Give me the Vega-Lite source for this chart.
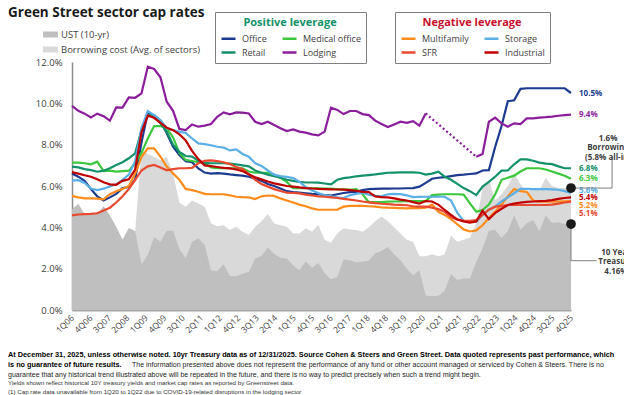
{
  "$schema": "https://vega.github.io/schema/vega-lite/v6.json",
  "width": 499,
  "height": 248,
  "autosize": {"type": "none"},
  "padding": {"left": 72, "top": 62, "right": 53, "bottom": 85},
  "background": "white",
  "config": {"view": {"stroke": null}, "font": "Open Sans"},
  "title": {"text": "Green Street sector cap rates", "anchor": "start", "frame": "group", "dx": -64, "offset": -8, "fontSize": 13.5, "font": "Open Sans", "fontWeight": "bold", "color": "#1a1a1a"},
  "datasets": {
    "ends": [
      {"series": "Office", "label": "10.5%"},
      {"series": "Lodging", "label": "9.4%"},
      {"series": "Retail", "label": "6.8%"},
      {"series": "Medical office", "label": "6.3%"},
      {"series": "Storage", "label": "5.6%"},
      {"series": "Industrial", "label": "5.4%"},
      {"series": "Multifamily", "label": "5.2%"},
      {"series": "SFR", "label": "5.1%"}
    ],
    "cap": [
      {"i":0,"UST":4.86,"Borrow":null,"Office":6.6,"Medical office":7.13,"Retail":6.94,"Lodging":9.88,"Multifamily":5.52,"Storage":6.26,"SFR":4.58,"Industrial":6.67},
      {"i":1,"UST":5.14,"Borrow":null,"Office":6.45,"Medical office":7.13,"Retail":6.9,"Lodging":9.64,"Multifamily":5.45,"Storage":6.28,"SFR":4.62,"Industrial":6.6},
      {"i":2,"UST":4.63,"Borrow":null,"Office":6.25,"Medical office":7.1,"Retail":6.82,"Lodging":9.5,"Multifamily":5.4,"Storage":6.15,"SFR":4.64,"Industrial":6.52},
      {"i":3,"UST":4.7,"Borrow":null,"Office":5.85,"Medical office":7.05,"Retail":6.77,"Lodging":9.32,"Multifamily":5.4,"Storage":5.88,"SFR":4.65,"Industrial":6.45},
      {"i":4,"UST":4.64,"Borrow":null,"Office":5.5,"Medical office":7.18,"Retail":6.69,"Lodging":9.5,"Multifamily":5.39,"Storage":5.8,"SFR":4.68,"Industrial":6.33},
      {"i":5,"UST":5.02,"Borrow":null,"Office":5.3,"Medical office":6.72,"Retail":6.74,"Lodging":9.38,"Multifamily":5.35,"Storage":5.87,"SFR":4.82,"Industrial":6.18},
      {"i":6,"UST":4.58,"Borrow":null,"Office":5.45,"Medical office":6.74,"Retail":6.86,"Lodging":9.16,"Multifamily":5.6,"Storage":5.98,"SFR":4.95,"Industrial":6.08},
      {"i":7,"UST":4.03,"Borrow":null,"Office":5.62,"Medical office":6.7,"Retail":7.02,"Lodging":9.8,"Multifamily":5.75,"Storage":6.08,"SFR":5.2,"Industrial":6.06},
      {"i":8,"UST":3.41,"Borrow":null,"Office":5.9,"Medical office":6.72,"Retail":7.15,"Lodging":9.79,"Multifamily":5.86,"Storage":6.3,"SFR":5.5,"Industrial":6.25},
      {"i":9,"UST":3.97,"Borrow":null,"Office":5.95,"Medical office":6.74,"Retail":7.34,"Lodging":10.29,"Multifamily":6.0,"Storage":6.55,"SFR":5.85,"Industrial":6.32},
      {"i":10,"UST":3.82,"Borrow":3.84,"Office":6.3,"Medical office":7.1,"Retail":7.58,"Lodging":10.27,"Multifamily":6.6,"Storage":7.2,"SFR":6.3,"Industrial":6.8},
      {"i":11,"UST":2.21,"Borrow":7.7,"Office":8.1,"Medical office":7.6,"Retail":8.7,"Lodging":10.48,"Multifamily":7.4,"Storage":8.8,"SFR":6.75,"Industrial":8.6},
      {"i":12,"UST":2.67,"Borrow":7.55,"Office":9.55,"Medical office":8.3,"Retail":9.43,"Lodging":11.77,"Multifamily":7.82,"Storage":9.62,"SFR":6.95,"Industrial":9.4},
      {"i":13,"UST":3.53,"Borrow":7.4,"Office":9.43,"Medical office":8.9,"Retail":9.43,"Lodging":11.66,"Multifamily":7.82,"Storage":9.43,"SFR":7.02,"Industrial":9.3},
      {"i":14,"UST":3.3,"Borrow":7.25,"Office":9.16,"Medical office":8.9,"Retail":9.03,"Lodging":11.26,"Multifamily":7.42,"Storage":9.19,"SFR":6.9,"Industrial":9.05},
      {"i":15,"UST":3.83,"Borrow":7.4,"Office":8.55,"Medical office":8.8,"Retail":8.63,"Lodging":10.08,"Multifamily":6.94,"Storage":8.79,"SFR":6.76,"Industrial":8.82},
      {"i":16,"UST":3.83,"Borrow":6.6,"Office":7.9,"Medical office":8.35,"Retail":8.0,"Lodging":9.64,"Multifamily":6.61,"Storage":8.71,"SFR":6.82,"Industrial":8.7},
      {"i":17,"UST":2.95,"Borrow":5.2,"Office":7.5,"Medical office":7.6,"Retail":7.65,"Lodging":8.76,"Multifamily":6.3,"Storage":8.62,"SFR":6.86,"Industrial":8.5},
      {"i":18,"UST":2.51,"Borrow":5.0,"Office":7.2,"Medical office":7.26,"Retail":7.45,"Lodging":8.71,"Multifamily":5.86,"Storage":8.57,"SFR":6.86,"Industrial":8.2},
      {"i":19,"UST":3.29,"Borrow":5.3,"Office":7.15,"Medical office":7.21,"Retail":7.42,"Lodging":8.98,"Multifamily":5.8,"Storage":8.3,"SFR":6.88,"Industrial":7.7},
      {"i":20,"UST":3.47,"Borrow":5.15,"Office":6.85,"Medical office":7.15,"Retail":7.22,"Lodging":8.87,"Multifamily":5.72,"Storage":8.06,"SFR":7.1,"Industrial":7.3},
      {"i":21,"UST":3.16,"Borrow":5.0,"Office":6.65,"Medical office":7.1,"Retail":7.12,"Lodging":8.92,"Multifamily":5.62,"Storage":8.03,"SFR":7.22,"Industrial":7.0},
      {"i":22,"UST":1.92,"Borrow":4.2,"Office":6.6,"Medical office":6.9,"Retail":7.1,"Lodging":9.0,"Multifamily":5.6,"Storage":7.97,"SFR":7.24,"Industrial":6.96},
      {"i":23,"UST":1.88,"Borrow":4.05,"Office":6.62,"Medical office":6.86,"Retail":7.1,"Lodging":9.35,"Multifamily":5.6,"Storage":7.9,"SFR":7.2,"Industrial":6.92},
      {"i":24,"UST":2.21,"Borrow":4.1,"Office":6.6,"Medical office":6.86,"Retail":7.1,"Lodging":9.56,"Multifamily":5.6,"Storage":7.86,"SFR":7.15,"Industrial":6.88},
      {"i":25,"UST":1.65,"Borrow":3.87,"Office":6.56,"Medical office":6.86,"Retail":7.08,"Lodging":9.47,"Multifamily":5.55,"Storage":7.72,"SFR":7.06,"Industrial":6.85},
      {"i":26,"UST":1.63,"Borrow":4.03,"Office":6.53,"Medical office":6.86,"Retail":7.05,"Lodging":9.56,"Multifamily":5.48,"Storage":7.77,"SFR":6.92,"Industrial":6.8},
      {"i":27,"UST":1.76,"Borrow":3.79,"Office":6.5,"Medical office":6.86,"Retail":7.0,"Lodging":9.55,"Multifamily":5.46,"Storage":7.55,"SFR":6.82,"Industrial":6.72},
      {"i":28,"UST":1.85,"Borrow":3.63,"Office":6.45,"Medical office":6.7,"Retail":6.95,"Lodging":9.51,"Multifamily":5.45,"Storage":7.42,"SFR":6.58,"Industrial":6.55},
      {"i":29,"UST":2.49,"Borrow":4.03,"Office":6.35,"Medical office":6.64,"Retail":6.75,"Lodging":9.11,"Multifamily":5.37,"Storage":7.1,"SFR":6.3,"Industrial":6.42},
      {"i":30,"UST":2.61,"Borrow":4.3,"Office":6.25,"Medical office":6.64,"Retail":6.64,"Lodging":9.0,"Multifamily":5.5,"Storage":6.97,"SFR":6.1,"Industrial":6.32},
      {"i":31,"UST":3.03,"Borrow":4.64,"Office":6.1,"Medical office":6.64,"Retail":6.55,"Lodging":9.11,"Multifamily":5.54,"Storage":6.75,"SFR":5.97,"Industrial":6.22},
      {"i":32,"UST":2.72,"Borrow":4.19,"Office":6.0,"Medical office":6.55,"Retail":6.47,"Lodging":8.95,"Multifamily":5.52,"Storage":6.55,"SFR":5.85,"Industrial":6.13},
      {"i":33,"UST":2.53,"Borrow":4.1,"Office":5.88,"Medical office":6.4,"Retail":6.4,"Lodging":8.8,"Multifamily":5.4,"Storage":6.48,"SFR":5.76,"Industrial":6.07},
      {"i":34,"UST":2.49,"Borrow":4.03,"Office":5.75,"Medical office":6.2,"Retail":6.3,"Lodging":8.66,"Multifamily":5.3,"Storage":6.44,"SFR":5.68,"Industrial":6.0},
      {"i":35,"UST":2.17,"Borrow":3.71,"Office":5.7,"Medical office":5.89,"Retail":6.25,"Lodging":8.74,"Multifamily":5.2,"Storage":6.38,"SFR":5.66,"Industrial":5.97},
      {"i":36,"UST":1.92,"Borrow":3.7,"Office":5.68,"Medical office":5.89,"Retail":6.2,"Lodging":8.63,"Multifamily":5.1,"Storage":6.21,"SFR":5.64,"Industrial":5.93},
      {"i":37,"UST":2.35,"Borrow":3.95,"Office":5.65,"Medical office":5.89,"Retail":6.17,"Lodging":8.58,"Multifamily":5.02,"Storage":5.95,"SFR":5.58,"Industrial":5.9},
      {"i":38,"UST":2.04,"Borrow":3.8,"Office":5.62,"Medical office":5.89,"Retail":6.17,"Lodging":8.5,"Multifamily":4.92,"Storage":5.78,"SFR":5.54,"Industrial":5.88},
      {"i":39,"UST":2.27,"Borrow":4.11,"Office":5.6,"Medical office":5.89,"Retail":6.16,"Lodging":8.45,"Multifamily":4.85,"Storage":5.66,"SFR":5.5,"Industrial":5.86},
      {"i":40,"UST":1.78,"Borrow":3.4,"Office":5.56,"Medical office":5.88,"Retail":6.12,"Lodging":8.63,"Multifamily":4.85,"Storage":5.55,"SFR":5.48,"Industrial":5.85},
      {"i":41,"UST":1.49,"Borrow":3.26,"Office":5.54,"Medical office":5.87,"Retail":6.08,"Lodging":9.79,"Multifamily":4.85,"Storage":5.5,"SFR":5.45,"Industrial":5.84},
      {"i":42,"UST":1.6,"Borrow":3.7,"Office":5.6,"Medical office":5.85,"Retail":6.3,"Lodging":9.68,"Multifamily":4.86,"Storage":5.45,"SFR":5.42,"Industrial":5.83},
      {"i":43,"UST":2.45,"Borrow":3.95,"Office":5.66,"Medical office":5.84,"Retail":6.38,"Lodging":9.48,"Multifamily":5.0,"Storage":5.42,"SFR":5.38,"Industrial":5.82},
      {"i":44,"UST":2.4,"Borrow":3.9,"Office":5.7,"Medical office":5.82,"Retail":6.42,"Lodging":9.63,"Multifamily":5.04,"Storage":5.55,"SFR":5.34,"Industrial":5.8},
      {"i":45,"UST":2.31,"Borrow":3.87,"Office":5.72,"Medical office":5.85,"Retail":6.47,"Lodging":9.63,"Multifamily":5.04,"Storage":5.62,"SFR":5.3,"Industrial":5.77},
      {"i":46,"UST":2.33,"Borrow":3.79,"Office":5.8,"Medical office":5.6,"Retail":6.5,"Lodging":9.48,"Multifamily":5.04,"Storage":5.68,"SFR":5.25,"Industrial":5.72},
      {"i":47,"UST":2.4,"Borrow":4.0,"Office":5.85,"Medical office":5.22,"Retail":6.53,"Lodging":9.43,"Multifamily":5.02,"Storage":5.58,"SFR":5.21,"Industrial":5.7},
      {"i":48,"UST":2.74,"Borrow":4.3,"Office":5.86,"Medical office":5.22,"Retail":6.56,"Lodging":9.16,"Multifamily":5.0,"Storage":5.52,"SFR":5.17,"Industrial":5.5},
      {"i":49,"UST":2.85,"Borrow":4.52,"Office":5.87,"Medical office":5.22,"Retail":6.6,"Lodging":9.0,"Multifamily":4.97,"Storage":5.5,"SFR":5.14,"Industrial":5.46},
      {"i":50,"UST":3.05,"Borrow":4.3,"Office":5.87,"Medical office":5.24,"Retail":6.64,"Lodging":8.85,"Multifamily":4.95,"Storage":5.6,"SFR":5.12,"Industrial":5.45},
      {"i":51,"UST":2.69,"Borrow":4.0,"Office":5.88,"Medical office":5.25,"Retail":6.65,"Lodging":8.98,"Multifamily":4.94,"Storage":5.62,"SFR":5.1,"Industrial":5.4},
      {"i":52,"UST":2.41,"Borrow":3.7,"Office":5.88,"Medical office":5.26,"Retail":6.66,"Lodging":9.11,"Multifamily":4.93,"Storage":5.61,"SFR":5.09,"Industrial":5.34},
      {"i":53,"UST":2.0,"Borrow":3.4,"Office":5.89,"Medical office":5.27,"Retail":6.66,"Lodging":9.06,"Multifamily":4.92,"Storage":5.55,"SFR":5.07,"Industrial":5.3},
      {"i":54,"UST":1.68,"Borrow":3.3,"Office":5.9,"Medical office":5.27,"Retail":6.66,"Lodging":9.14,"Multifamily":4.93,"Storage":5.46,"SFR":5.02,"Industrial":5.22},
      {"i":55,"UST":1.92,"Borrow":2.6,"Office":5.97,"Medical office":5.27,"Retail":6.64,"Lodging":8.92,"Multifamily":4.93,"Storage":5.47,"SFR":5.0,"Industrial":5.15},
      {"i":56,"UST":0.7,"Borrow":2.6,"Office":6.15,"Medical office":5.27,"Retail":6.55,"Lodging":9.51,"Multifamily":4.95,"Storage":5.48,"SFR":5.0,"Industrial":5.27},
      {"i":57,"UST":0.66,"Borrow":2.7,"Office":6.35,"Medical office":5.56,"Retail":6.6,"Lodging":null,"Multifamily":5.1,"Storage":5.48,"SFR":4.95,"Industrial":5.25},
      {"i":58,"UST":0.69,"Borrow":2.6,"Office":6.4,"Medical office":5.58,"Retail":6.69,"Lodging":null,"Multifamily":4.75,"Storage":5.48,"SFR":4.88,"Industrial":5.1},
      {"i":59,"UST":0.93,"Borrow":2.7,"Office":6.43,"Medical office":5.6,"Retail":6.45,"Lodging":null,"Multifamily":4.6,"Storage":5.48,"SFR":4.75,"Industrial":4.84},
      {"i":60,"UST":1.74,"Borrow":3.6,"Office":6.48,"Medical office":5.6,"Retail":6.3,"Lodging":null,"Multifamily":4.4,"Storage":5.3,"SFR":4.5,"Industrial":4.6},
      {"i":61,"UST":1.45,"Borrow":3.3,"Office":6.53,"Medical office":5.6,"Retail":6.1,"Lodging":null,"Multifamily":4.15,"Storage":4.7,"SFR":4.37,"Industrial":4.38},
      {"i":62,"UST":1.52,"Borrow":3.4,"Office":6.55,"Medical office":5.58,"Retail":5.9,"Lodging":null,"Multifamily":3.9,"Storage":4.32,"SFR":4.33,"Industrial":4.28},
      {"i":63,"UST":1.52,"Borrow":3.5,"Office":6.58,"Medical office":5.16,"Retail":5.75,"Lodging":null,"Multifamily":3.8,"Storage":4.28,"SFR":4.31,"Industrial":4.23},
      {"i":64,"UST":2.32,"Borrow":4.2,"Office":6.61,"Medical office":4.76,"Retail":5.56,"Lodging":7.42,"Multifamily":3.85,"Storage":4.28,"SFR":4.35,"Industrial":4.28},
      {"i":65,"UST":2.98,"Borrow":5.9,"Office":6.75,"Medical office":4.84,"Retail":5.97,"Lodging":7.55,"Multifamily":4.1,"Storage":4.6,"SFR":4.6,"Industrial":4.8},
      {"i":66,"UST":3.83,"Borrow":6.3,"Office":6.77,"Medical office":5.1,"Retail":6.2,"Lodging":9.11,"Multifamily":4.45,"Storage":4.85,"SFR":4.85,"Industrial":4.4},
      {"i":67,"UST":3.88,"Borrow":5.3,"Office":7.9,"Medical office":5.6,"Retail":6.45,"Lodging":9.31,"Multifamily":4.76,"Storage":5.0,"SFR":5.0,"Industrial":4.7},
      {"i":68,"UST":3.48,"Borrow":5.6,"Office":8.9,"Medical office":6.3,"Retail":6.74,"Lodging":9.03,"Multifamily":5.1,"Storage":5.25,"SFR":5.04,"Industrial":4.9},
      {"i":69,"UST":3.81,"Borrow":6.0,"Office":10.1,"Medical office":6.4,"Retail":6.75,"Lodging":8.87,"Multifamily":5.5,"Storage":5.45,"SFR":5.08,"Industrial":5.08},
      {"i":70,"UST":4.59,"Borrow":6.6,"Office":10.15,"Medical office":6.5,"Retail":7.05,"Lodging":9.03,"Multifamily":5.85,"Storage":5.65,"SFR":5.08,"Industrial":5.15},
      {"i":71,"UST":3.88,"Borrow":6.1,"Office":10.7,"Medical office":6.7,"Retail":7.29,"Lodging":9.0,"Multifamily":5.75,"Storage":5.86,"SFR":5.08,"Industrial":5.2},
      {"i":72,"UST":4.2,"Borrow":5.7,"Office":10.73,"Medical office":6.86,"Retail":7.29,"Lodging":9.27,"Multifamily":5.72,"Storage":5.86,"SFR":5.08,"Industrial":5.23},
      {"i":73,"UST":4.36,"Borrow":5.9,"Office":10.73,"Medical office":6.86,"Retail":7.22,"Lodging":9.27,"Multifamily":5.3,"Storage":5.85,"SFR":5.08,"Industrial":5.25},
      {"i":74,"UST":3.81,"Borrow":5.8,"Office":10.73,"Medical office":6.86,"Retail":7.13,"Lodging":9.31,"Multifamily":5.24,"Storage":5.85,"SFR":5.08,"Industrial":5.27},
      {"i":75,"UST":4.57,"Borrow":6.4,"Office":10.73,"Medical office":6.8,"Retail":7.08,"Lodging":9.33,"Multifamily":5.24,"Storage":5.85,"SFR":5.08,"Industrial":5.28},
      {"i":76,"UST":4.21,"Borrow":6.0,"Office":10.73,"Medical office":6.7,"Retail":7.06,"Lodging":9.36,"Multifamily":5.24,"Storage":5.84,"SFR":5.1,"Industrial":5.32},
      {"i":77,"UST":4.24,"Borrow":5.9,"Office":10.73,"Medical office":6.6,"Retail":6.95,"Lodging":9.4,"Multifamily":5.25,"Storage":5.82,"SFR":5.15,"Industrial":5.38},
      {"i":78,"UST":4.16,"Borrow":5.9,"Office":10.73,"Medical office":6.5,"Retail":6.86,"Lodging":9.43,"Multifamily":5.26,"Storage":5.75,"SFR":5.2,"Industrial":5.42},
      {"i":79,"UST":4.16,"Borrow":5.9,"Office":10.5,"Medical office":6.35,"Retail":6.86,"Lodging":9.45,"Multifamily":5.27,"Storage":5.67,"SFR":5.24,"Industrial":5.45}
    ]
  },
  "data": {"name": "cap"},
  "transform": [
    {"fold": ["UST", "Borrow", "Office", "Medical office", "Retail", "Lodging", "Multifamily", "Storage", "SFR", "Industrial"], "as": ["series", "value"]}
  ],
  "encoding": {
    "x": {
      "field": "i", "type": "quantitative", "title": null,
      "scale": {"domain": [0, 79], "nice": false, "zero": false},
      "axis": {
        "values": [0, 2.926, 5.852, 8.778, 11.704, 14.63, 17.556, 20.481, 23.407, 26.333, 29.259, 32.185, 35.111, 38.037, 40.963, 43.889, 46.815, 49.741, 52.667, 55.593, 58.519, 61.444, 64.37, 67.296, 70.222, 73.148, 76.074, 79],
        "labelExpr": "['1Q06','4Q06','3Q07','2Q08','1Q09','4Q09','3Q10','2Q11','1Q12','4Q12','3Q13','2Q14','1Q15','4Q15','3Q16','2Q17','1Q18','4Q18','3Q19','2Q20','1Q21','4Q21','3Q22','2Q23','1Q24','4Q24','3Q25','4Q25'][round(datum.value*27/79)]",
        "labelAngle": -45, "labelAlign": "right", "labelBaseline": "middle", "labelPadding": 6,
        "ticks": false, "grid": false, "domainColor": "#a6a6a6", "domainWidth": 2,
        "labelFontSize": 8.5, "labelColor": "#404040", "labelFont": "Open Sans",
        "labelOverlap": false, "labelFlush": false, "title": null
      }
    },
    "y": {
      "field": "value", "type": "quantitative", "title": null,
      "scale": {"domain": [0, 12], "nice": false, "zero": true},
      "axis": {
        "values": [0, 2, 4, 6, 8, 10, 12],
        "labelExpr": "format(datum.value, '.1f') + '%'",
        "ticks": false, "grid": false, "domainColor": "#8c8c8c", "domainWidth": 1.5,
        "labelPadding": 10, "labelFontSize": 9.5, "labelColor": "#404040", "labelFont": "Open Sans", "title": null
      }
    }
  },
  "layer": [
    {
      "transform": [{"filter": "datum.series === 'Borrow'"}],
      "mark": {"type": "area", "opacity": 1},
      "encoding": {
        "fill": {
          "datum": "Borrowing cost (Avg. of sectors)", "type": "nominal",
          "scale": {"domain": ["UST (10-yr)", "Borrowing cost (Avg. of sectors)"], "range": ["#bfbfbf", "#d9d9d9"]},
          "legend": {
            "title": null, "orient": "none", "legendX": -29, "legendY": -35,
            "symbolType": "M-1,-0.4L1,-0.4L1,0.4L-1,0.4Z", "symbolSize": 225, "symbolStrokeWidth": 0, "symbolOpacity": 1,
            "labelFontSize": 9.5, "labelColor": "#404040", "labelFont": "Open Sans", "labelOffset": 3, "rowPadding": 3, "padding": 0
          }
        }
      }
    },
    {
      "transform": [{"filter": "datum.series === 'UST'"}],
      "mark": {"type": "area", "opacity": 1},
      "encoding": {"fill": {"datum": "UST (10-yr)", "type": "nominal"}}
    },
    {
      "layer": [
        {
          "transform": [{"filter": {"field": "series", "oneOf": ["Office", "Medical office", "Retail", "Lodging"]}}],
          "mark": {"type": "line", "strokeWidth": 2.2},
          "encoding": {
            "color": {
              "field": "series", "type": "nominal",
              "scale": {"domain": ["Office", "Medical office", "Retail", "Lodging"], "range": ["#1c3a8f", "#3cc83c", "#12916a", "#8b1c9b"]},
              "legend": {
                "title": "Positive leverage", "orient": "none", "legendX": 143, "legendY": -50, "columns": 2, "direction": "horizontal",
                "symbolType": "stroke", "symbolSize": 196, "symbolStrokeWidth": 2.5,
                "labelFontSize": 9, "labelColor": "#404040", "labelFont": "Open Sans", "labelOffset": 5,
                "columnPadding": 10, "rowPadding": -1,
                "titleColor": "#12916a", "titleFont": "Open Sans", "titleFontSize": 11, "titleFontWeight": "bold", "titleAnchor": "middle", "titlePadding": 2,
                "strokeColor": "#7f7f7f", "fillColor": "white", "padding": 5
              }
            }
          }
        },
        {
          "transform": [{"filter": "datum.series === 'Lodging' && (datum.i === 56 || datum.i === 64)"}],
          "mark": {"type": "line", "strokeWidth": 2.2, "strokeDash": [2, 2.5]},
          "encoding": {"color": {"field": "series", "type": "nominal"}}
        },
        {
          "transform": [
            {"filter": "datum.i === 79 && indexof(['Office','Medical office','Retail','Lodging'], datum.series) >= 0"},
            {"lookup": "series", "from": {"data": {"name": "ends"}, "key": "series", "fields": ["label"]}}
          ],
          "mark": {"type": "text", "align": "left", "baseline": "middle", "dx": 8, "dy": 0.5, "fontSize": 8, "fontWeight": "bold", "font": "Open Sans"},
          "encoding": {"text": {"field": "label"}, "color": {"field": "series", "type": "nominal"}}
        }
      ]
    },
    {
      "layer": [
        {
          "transform": [{"filter": {"field": "series", "oneOf": ["Multifamily", "Storage", "SFR", "Industrial"]}}],
          "mark": {"type": "line", "strokeWidth": 2.2},
          "encoding": {
            "color": {
              "field": "series", "type": "nominal",
              "scale": {"domain": ["Multifamily", "Storage", "SFR", "Industrial"], "range": ["#ff8c1a", "#5aafe6", "#e8492f", "#c00000"]},
              "legend": {
                "title": "Negative leverage", "orient": "none", "legendX": 323, "legendY": -50, "columns": 2, "direction": "horizontal",
                "symbolType": "stroke", "symbolSize": 196, "symbolStrokeWidth": 2.5,
                "labelFontSize": 9, "labelColor": "#404040", "labelFont": "Open Sans", "labelOffset": 5,
                "columnPadding": 10, "rowPadding": -1,
                "titleColor": "#c8102e", "titleFont": "Open Sans", "titleFontSize": 11, "titleFontWeight": "bold", "titleAnchor": "middle", "titlePadding": 2,
                "strokeColor": "#7f7f7f", "fillColor": "white", "padding": 5
              }
            }
          }
        },
        {
          "transform": [
            {"filter": "datum.i === 79 && datum.series === 'Storage'"},
            {"lookup": "series", "from": {"data": {"name": "ends"}, "key": "series", "fields": ["label"]}}
          ],
          "mark": {"type": "text", "align": "left", "baseline": "middle", "dx": 8, "dy": -2, "fontSize": 8, "fontWeight": "bold", "font": "Open Sans"},
          "encoding": {"text": {"field": "label"}, "color": {"field": "series", "type": "nominal"}}
        },
        {
          "transform": [
            {"filter": "datum.i === 79 && datum.series === 'Industrial'"},
            {"lookup": "series", "from": {"data": {"name": "ends"}, "key": "series", "fields": ["label"]}}
          ],
          "mark": {"type": "text", "align": "left", "baseline": "middle", "dx": 8, "dy": 0.5, "fontSize": 8, "fontWeight": "bold", "font": "Open Sans"},
          "encoding": {"text": {"field": "label"}, "color": {"field": "series", "type": "nominal"}}
        },
        {
          "transform": [
            {"filter": "datum.i === 79 && datum.series === 'Multifamily'"},
            {"lookup": "series", "from": {"data": {"name": "ends"}, "key": "series", "fields": ["label"]}}
          ],
          "mark": {"type": "text", "align": "left", "baseline": "middle", "dx": 8, "dy": 5, "fontSize": 8, "fontWeight": "bold", "font": "Open Sans"},
          "encoding": {"text": {"field": "label"}, "color": {"field": "series", "type": "nominal"}}
        },
        {
          "transform": [
            {"filter": "datum.i === 79 && datum.series === 'SFR'"},
            {"lookup": "series", "from": {"data": {"name": "ends"}, "key": "series", "fields": ["label"]}}
          ],
          "mark": {"type": "text", "align": "left", "baseline": "middle", "dx": 8, "dy": 12, "fontSize": 8, "fontWeight": "bold", "font": "Open Sans"},
          "encoding": {"text": {"field": "label"}, "color": {"field": "series", "type": "nominal"}}
        }
      ]
    },
    {
      "transform": [{"filter": "datum.i === 79 && datum.series === 'Borrow'"}],
      "mark": {"type": "rule", "color": "#7f7f7f", "strokeWidth": 1},
      "encoding": {"x2": {"datum": 85.5}}
    },
    {
      "transform": [{"filter": "datum.i === 79 && datum.series === 'Borrow'"}],
      "mark": {"type": "rule", "color": "#7f7f7f", "strokeWidth": 1},
      "encoding": {"x": {"datum": 85.5}, "y2": {"datum": 7.42}}
    },
    {
      "transform": [{"filter": "datum.i === 79 && datum.series === 'UST'"}],
      "mark": {"type": "rule", "color": "#7f7f7f", "strokeWidth": 1},
      "encoding": {"y2": {"datum": 2.385}}
    },
    {
      "transform": [{"filter": "datum.i === 79 && datum.series === 'UST'"}],
      "mark": {"type": "rule", "color": "#7f7f7f", "strokeWidth": 1},
      "encoding": {"x2": {"datum": 83.07}, "y": {"datum": 2.385}}
    },
    {
      "transform": [{"filter": "datum.i === 79 && (datum.series === 'UST' || datum.series === 'Borrow')"}],
      "mark": {"type": "point", "filled": true, "size": 95, "color": "#1a1a1a", "opacity": 1}
    },
    {
      "transform": [{"filter": "datum.i === 79 && datum.series === 'Borrow'"}],
      "mark": {"type": "text", "align": "center", "baseline": "alphabetic", "fontSize": 8, "fontWeight": "bold", "font": "Open Sans", "color": "#404040", "lineHeight": 9.5},
      "encoding": {"x": {"datum": 84.86}, "y": {"datum": 8.2}, "text": {"value": ["1.6%", "Borrowing", "(5.8% all-in)"]}}
    },
    {
      "transform": [{"filter": "datum.i === 79 && datum.series === 'UST'"}],
      "mark": {"type": "text", "align": "center", "baseline": "alphabetic", "fontSize": 8, "fontWeight": "bold", "font": "Open Sans", "color": "#404040", "lineHeight": 9.5},
      "encoding": {"x": {"datum": 86.12}, "y": {"datum": 2.676}, "text": {"value": ["10 Year", "Treasury", "4.16%"]}}
    },
    {
      "transform": [{"filter": "datum.i === 0 && datum.series === 'UST'"}],
      "mark": {"type": "text", "align": "left", "baseline": "alphabetic", "fontSize": 7.3, "fontWeight": "bold", "font": "Liberation Sans", "color": "#000000", "lineHeight": 10},
      "encoding": {"x": {"datum": -10.13}, "y": {"datum": -2.274}, "text": {"value": ["At December 31, 2025, unless otherwise noted. 10yr Treasury data as of 12/31/2025. Source Cohen & Steers and Green Street. Data quoted represents past performance, which", "is no guarantee of future results."]}}
    },
    {
      "transform": [{"filter": "datum.i === 0 && datum.series === 'UST'"}],
      "mark": {"type": "text", "align": "left", "baseline": "alphabetic", "fontSize": 7, "font": "Liberation Sans", "color": "#1a1a1a"},
      "encoding": {"x": {"datum": 9.5}, "y": {"datum": -2.758}, "text": {"value": "The information presented above does not represent the performance of any fund or other account managed or serviced by Cohen & Steers. There is no"}}
    },
    {
      "transform": [{"filter": "datum.i === 0 && datum.series === 'UST'"}],
      "mark": {"type": "text", "align": "left", "baseline": "alphabetic", "fontSize": 7, "font": "Liberation Sans", "color": "#1a1a1a"},
      "encoding": {"x": {"datum": -10.13}, "y": {"datum": -3.242}, "text": {"value": "guarantee that any historical trend illustrated above will be repeated in the future, and there is no way to predict precisely when such a trend might begin."}}
    },
    {
      "transform": [{"filter": "datum.i === 0 && datum.series === 'UST'"}],
      "mark": {"type": "text", "align": "left", "baseline": "alphabetic", "fontSize": 6.2, "font": "Liberation Sans", "color": "#333333", "lineHeight": 8.5},
      "encoding": {"x": {"datum": -10.13}, "y": {"datum": -3.653}, "text": {"value": ["Yields shown reflect historical 10Y treasury yields and market cap rates as reported by Greenstreet data.", "(1) Cap rate data unavailable from 1Q20 to 1Q22 due to COVID-19-related disruptions in the lodging sector"]}}
    }
  ],
  "resolve": {"scale": {"color": "independent"}}
}
